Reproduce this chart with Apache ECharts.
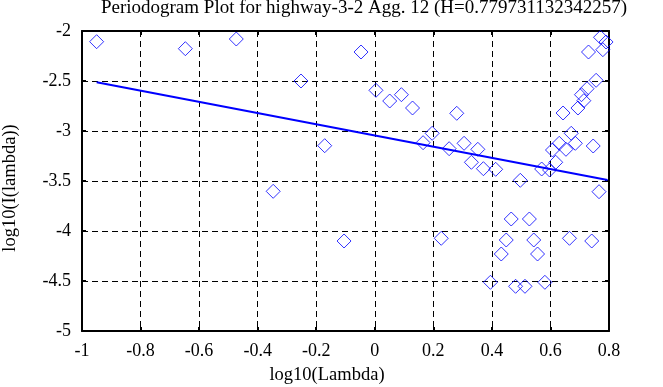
<!DOCTYPE html>
<html><head><meta charset="utf-8">
<script src="https://cdn.jsdelivr.net/npm/echarts@6/dist/echarts.min.js"></script>
<style>html,body{margin:0;padding:0;background:#fff}#c{width:663px;height:387px}</style>
</head><body><div id="c"></div>
<script>
var titleText = "Periodogram Plot for highway-3-2 Agg. 12 (H=0.779731132342257)";
var xName = "log10(Lambda)";
var yName = "log10(I(lambda))";
var xTicks = [-1, -0.8, -0.6, -0.4, -0.2, 0, 0.2, 0.4, 0.6, 0.8];
var yTicks = [-5, -4.5, -4, -3.5, -3, -2.5, -2];
var pointX = [-0.950,-0.647,-0.473,-0.252,-0.171,-0.347,-0.105,-0.047,0.004,0.051,0.091,0.129,0.280,0.196,0.165,0.254,0.305,0.352,0.330,0.371,0.413,0.497,0.570,0.597,0.618,0.607,0.630,0.653,0.671,0.685,0.746,0.643,0.694,0.706,0.714,0.725,0.756,0.730,0.771,0.790,0.779,0.766,0.466,0.528,0.227,0.449,0.543,0.665,0.741,0.432,0.556,0.395,0.481,0.513,0.581];
var pointY = [-2.107,-2.177,-2.080,-2.500,-3.147,-3.603,-4.100,-2.210,-2.593,-2.700,-2.637,-2.770,-2.823,-3.023,-3.117,-3.177,-3.123,-3.183,-3.313,-3.377,-3.383,-3.493,-3.380,-3.390,-3.313,-3.190,-3.123,-3.183,-3.023,-3.123,-3.150,-2.820,-2.770,-2.637,-2.697,-2.577,-2.493,-2.210,-2.063,-2.110,-2.187,-3.607,-3.880,-3.880,-4.073,-4.090,-4.090,-4.073,-4.100,-4.230,-4.230,-4.513,-4.553,-4.553,-4.513];
var fitX = [-0.950, 0.795];
var fitY = [-2.512, -3.489];

var FONT = "Liberation Serif";
var pts = pointX.map(function(x,i){return [x, pointY[i]];});
var fit = fitX.map(function(x,i){return [x, fitY[i]];});
var chart = echarts.init(document.getElementById('c'), null, {renderer:'canvas'});
function fmt(v){return String(Math.round(v*10)/10);}
function xa(pos, labels){
  return {type:'value', position:pos, min:xTicks[0], max:xTicks[xTicks.length-1], interval:0.2,
    axisLine:{show:true, onZero:false, lineStyle:{color:'#000', width:2}},
    axisTick:{show:true, inside:true, length:4, lineStyle:{color:'#000', width:2}},
    axisLabel:{show:labels, color:'#000', fontFamily:FONT, fontSize:18, margin:11, formatter:fmt},
    splitLine:{show:labels, lineStyle:{color:'#000', width:1, type:[6,4]}}};
}
function ya(pos, labels){
  return {type:'value', position:pos, min:yTicks[0], max:yTicks[yTicks.length-1], interval:0.5,
    axisLine:{show:true, onZero:false, lineStyle:{color:'#000', width:2}},
    axisTick:{show:true, inside:true, length:4, lineStyle:{color:'#000', width:2}},
    axisLabel:{show:labels, color:'#000', fontFamily:FONT, fontSize:18, margin:11, formatter:fmt},
    splitLine:{show:labels, lineStyle:{color:'#000', width:1, type:[6,4]}}};
}
chart.setOption({
  animation:false,
  backgroundColor:'#fff',
  grid:{left:82, top:31, width:527, height:300},
  xAxis:[xa('bottom', true), xa('top', false)],
  yAxis:[ya('left', true), ya('right', false)],
  graphic:[
    {type:'text', x:364, y:-1, style:{text:titleText, font:'19px "Liberation Serif"', fill:'#000', textAlign:'center', textVerticalAlign:'top'}},
    {type:'text', x:327, y:366, style:{text:xName, font:'18.5px "Liberation Serif"', fill:'#000', textAlign:'center', textVerticalAlign:'top'}},
    {type:'text', x:10, y:188, rotation:Math.PI/2, style:{text:yName, font:'18.5px "Liberation Serif"', fill:'#000', textAlign:'center', textVerticalAlign:'middle'}}
  ],
  series:[
    {type:'scatter', data:pts, symbol:'diamond', symbolSize:[14,14],
      itemStyle:{color:'rgba(0,0,0,0)', borderColor:'#0000ff', borderWidth:1}, z:3},
    {type:'line', data:fit, showSymbol:false, symbol:'none',
      lineStyle:{color:'#0000ff', width:2}, z:4}
  ]
});
</script></body></html>
